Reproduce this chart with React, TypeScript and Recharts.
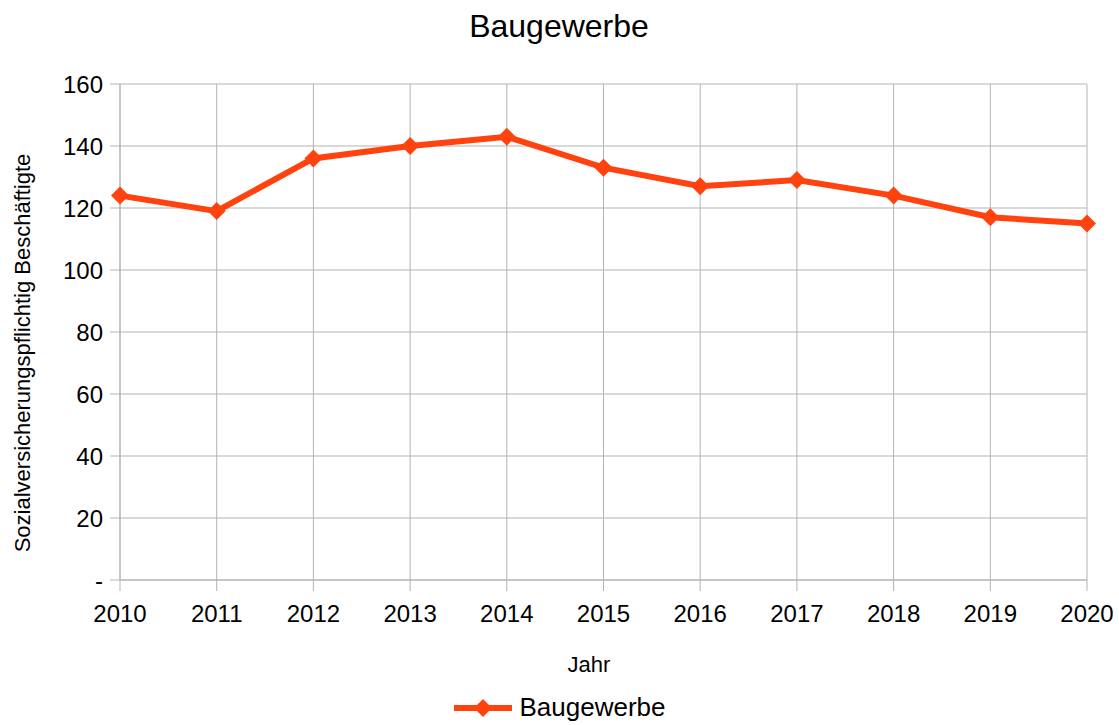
import React from 'react';
import { LineChart, Line, XAxis, YAxis, CartesianGrid, Legend, Customized } from 'recharts';

// Jahre und Beschäftigte (in Tausend) im Baugewerbe
const years = ['2010', '2011', '2012', '2013', '2014', '2015', '2016', '2017', '2018', '2019', '2020'];
const baugewerbe = [124, 119, 136, 140, 143, 133, 127, 129, 124, 117, 115];
const yTicks = [0, 20, 40, 60, 80, 100, 120, 140, 160];

const data = years.map((year, i) => ({ year, baugewerbe: baugewerbe[i] }));

const LINE_COLOR = '#ff420e';
const GRID_COLOR = '#b3b3b3';
const FONT = '"Liberation Sans", Arial, sans-serif';

// Raute als Datenpunkt
const Diamond = (props: any) => {
  const { cx, cy } = props;
  if (cx == null || cy == null) return null;
  const r = 9;
  return (
    <polygon
      points={`${cx},${cy - r} ${cx + r},${cy} ${cx},${cy + r} ${cx - r},${cy}`}
      fill={LINE_COLOR}
      stroke="none"
    />
  );
};

const renderLegend = (props: any) => {
  const { payload = [] } = props;
  return (
    <div style={{ display: 'flex', justifyContent: 'center', alignItems: 'center', fontFamily: FONT }}>
      {payload.map((entry: any) => (
        <div key={entry.value} style={{ display: 'flex', alignItems: 'center' }}>
          <svg width={58} height={20}>
            <line x1={0} y1={10} x2={58} y2={10} stroke={LINE_COLOR} strokeWidth={6} />
            <polygon points="29,1 38,10 29,19 20,10" fill={LINE_COLOR} />
          </svg>
          <span style={{ fontSize: 26, marginLeft: 8, color: '#000' }}>{entry.value}</span>
        </div>
      ))}
    </div>
  );
};

const Title = () => (
  <text x={559} y={37} textAnchor="middle" fontSize={32} fill="#000" fontFamily={FONT}>
    Baugewerbe
  </text>
);

const App: React.FC = () => {
  return (
    <div style={{ position: 'absolute', left: 0, top: 0, width: 1119, height: 725, background: '#fff' }}>
      <LineChart
        width={1119}
        height={725}
        data={data}
        margin={{ top: 84, right: 32, left: 0, bottom: 83 }}
        style={{ fontFamily: FONT }}
      >
        <CartesianGrid stroke={GRID_COLOR} strokeWidth={1} />
        <XAxis
          dataKey="year"
          height={30}
          stroke={GRID_COLOR}
          tickSize={11}
          tickMargin={14}
          tick={{ fill: '#000', fontSize: 24 }}
          interval={0}
          label={{
            content: () => (
              <text x={589} y={672} textAnchor="middle" fontSize={22} fill="#000" fontFamily={FONT}>
                Jahr
              </text>
            ),
          }}
        />
        <YAxis
          width={120}
          domain={[0, 160]}
          ticks={yTicks}
          stroke={GRID_COLOR}
          tickSize={10}
          tickMargin={7}
          tick={{ fill: '#000', fontSize: 24 }}
          tickFormatter={(v: number) => (v === 0 ? '-' : String(v))}
          label={{
            content: () => (
              <text
                x={22}
                y={353}
                transform="rotate(-90, 22, 353)"
                textAnchor="middle"
                dominantBaseline="central"
                fontSize={22}
                fill="#000"
                fontFamily={FONT}
              >
                Sozialversicherungspflichtig Beschäftigte
              </text>
            ),
          }}
        />
        <Legend
          content={renderLegend}
          wrapperStyle={{ position: 'absolute', top: 692, left: 0, width: 1119, height: 32 }}
        />
        <Line
          type="linear"
          dataKey="baugewerbe"
          name="Baugewerbe"
          stroke={LINE_COLOR}
          strokeWidth={6}
          dot={<Diamond />}
          activeDot={false}
          isAnimationActive={false}
        />
        <Customized component={Title} />
      </LineChart>
    </div>
  );
};

export default App;
